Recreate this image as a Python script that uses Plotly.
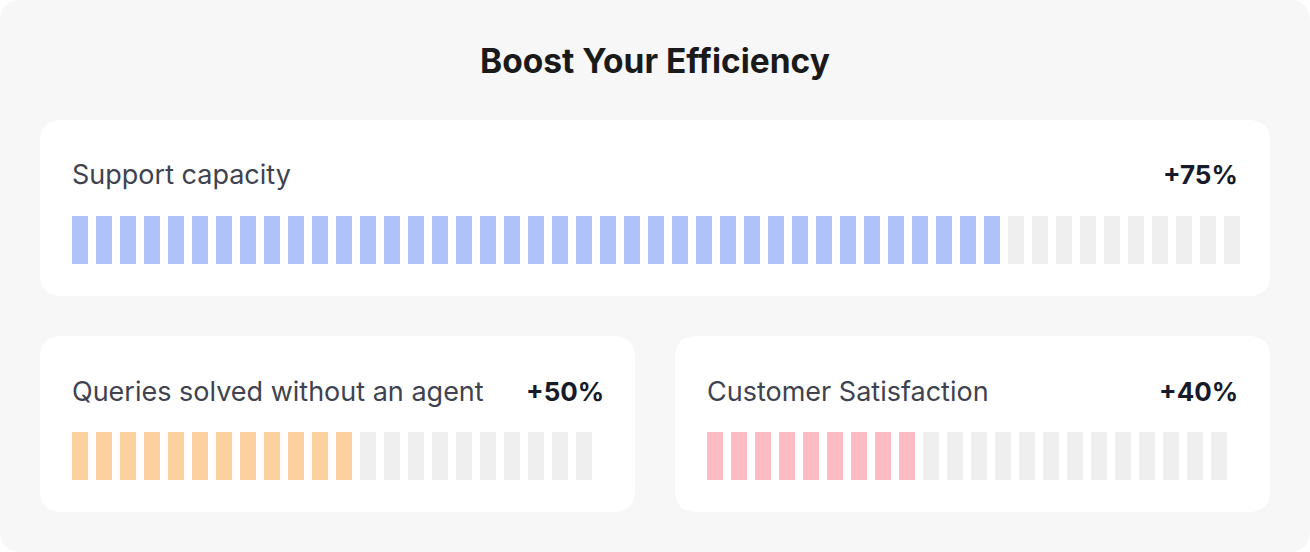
import plotly.graph_objects as go

# ---- data ----
title_text = "Boost Your Efficiency"
metric_labels = ["Support capacity", "Queries solved without an agent", "Customer Satisfaction"]
metric_values = ["+75%", "+50%", "+40%"]
filled_segments = [39, 12, 9]
total_segments = [49, 22, 22]
fill_colors = ["#afc2fa", "#fdd09f", "#fdbcc3"]
empty_color = "#efefef"

W, H = 1310, 552
FONT = "Inter, Lato, sans-serif"

def px(x):
    return x / W

def py(y):
    return 1 - y / H

def rounded(x0, y0, x1, y1, r):
    X = lambda v: f"{px(v):.6f}"
    Y = lambda v: f"{py(v):.6f}"
    return (f"M {X(x0+r)},{Y(y0)} L {X(x1-r)},{Y(y0)} Q {X(x1)},{Y(y0)} {X(x1)},{Y(y0+r)} "
            f"L {X(x1)},{Y(y1-r)} Q {X(x1)},{Y(y1)} {X(x1-r)},{Y(y1)} "
            f"L {X(x0+r)},{Y(y1)} Q {X(x0)},{Y(y1)} {X(x0)},{Y(y1-r)} "
            f"L {X(x0)},{Y(y0+r)} Q {X(x0)},{Y(y0)} {X(x0+r)},{Y(y0)} Z")

fig = go.Figure()

cards = [
    dict(box=(40, 120, 1270, 296), bar_left=72, bar_top=216, label_y=175, value_x=1237),
    dict(box=(40, 336, 635, 512), bar_left=72, bar_top=432, label_y=391, value_x=603),
    dict(box=(675, 336, 1270, 512), bar_left=707, bar_top=432, label_y=391, value_x=1237),
]
pitch, bar_h = 24, 48

shapes = [dict(type="path", path=rounded(0, 0, W, H, 22), xref="paper", yref="paper",
               fillcolor="#f7f7f7", line=dict(width=0), layer="below")]
annotations = [dict(text=f"<b>{title_text}</b>", x=px(655), y=py(61), xref="paper", yref="paper",
                    showarrow=False, xanchor="center", yanchor="middle",
                    font=dict(family=FONT, size=33.5, color="#1a1a1a"))]

for i, c in enumerate(cards):
    shapes.append(dict(type="path", path=rounded(*c["box"], 22), xref="paper", yref="paper",
                       fillcolor="#ffffff", line=dict(width=0), layer="below"))
    n = total_segments[i]
    k = filled_segments[i]
    xa = "x" if i == 0 else f"x{i+1}"
    ya = "y" if i == 0 else f"y{i+1}"
    fig.add_trace(go.Bar(x=list(range(k)), y=[1] * k, marker=dict(color=fill_colors[i], line=dict(width=0)),
                         xaxis=xa, yaxis=ya, hoverinfo="skip", showlegend=False))
    fig.add_trace(go.Bar(x=list(range(k, n)), y=[1] * (n - k), marker=dict(color=empty_color, line=dict(width=0)),
                         xaxis=xa, yaxis=ya, hoverinfo="skip", showlegend=False))
    left = c["bar_left"] - (0.5 - 1 / 3) * pitch
    right = left + n * pitch
    axk = "xaxis" if i == 0 else f"xaxis{i+1}"
    ayk = "yaxis" if i == 0 else f"yaxis{i+1}"
    fig.update_layout(**{
        axk: dict(domain=[px(left), px(right)], range=[-0.5, n - 0.5], visible=False, fixedrange=True,
                  anchor=ya),
        ayk: dict(domain=[py(c["bar_top"] + bar_h), py(c["bar_top"])], range=[0, 1], visible=False,
                  fixedrange=True, anchor=xa),
    })
    annotations.append(dict(text=metric_labels[i], x=px(c["bar_left"]), y=py(c["label_y"]),
                            xref="paper", yref="paper", showarrow=False, xanchor="left", yanchor="middle",
                            xshift=-1, borderpad=0,
                            font=dict(family=FONT, size=27, color="#40434f")))
    annotations.append(dict(text=f"<b>{metric_values[i]}</b>", x=px(c["value_x"]), y=py(c["label_y"]),
                            xref="paper", yref="paper", showarrow=False, xanchor="right", yanchor="middle",
                            xshift=2, borderpad=0,
                            font=dict(family=FONT, size=26, color="#161a29")))

fig.update_layout(width=W, height=H, margin=dict(l=0, r=0, t=0, b=0),
                  paper_bgcolor="#ffffff", plot_bgcolor="rgba(0,0,0,0)",
                  barmode="overlay", bargap=1 / 3, shapes=shapes, annotations=annotations)

fig.write_html("out.html", config={"displayModeBar": False},
               post_script="document.body.style.margin='0';document.body.style.padding='0';")
